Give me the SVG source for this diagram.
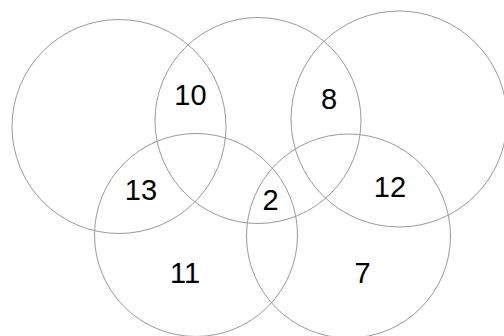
<svg xmlns="http://www.w3.org/2000/svg" width="504" height="336" viewBox="0 0 504 336">
<style>
.c{fill:none;stroke:#9a9a9a;stroke-width:1}
.t{font-family:"Liberation Sans",Arial,sans-serif;font-size:29px;fill:#000;text-anchor:middle}
</style>
<rect width="504" height="336" fill="#fff"/>
<g id="circles">
<circle id="A" class="c" cx="119" cy="126.5" r="107"/>
<circle id="B" class="c" cx="258" cy="120.5" r="103"/>
<circle id="C" class="c" cx="399" cy="119" r="108"/>
<circle id="D" class="c" cx="196" cy="235" r="101.5"/>
<circle id="E" class="c" cx="348.5" cy="236" r="102"/>
</g>
<g id="labels">
<text class="t" x="190.5" y="105">10</text>
<text class="t" x="329" y="109">8</text>
<text class="t" x="141" y="200">13</text>
<text class="t" x="270.5" y="210">2</text>
<text class="t" x="390" y="197">12</text>
<text class="t" x="185" y="283">11</text>
<text class="t" x="362.5" y="283">7</text>
</g>
</svg>
